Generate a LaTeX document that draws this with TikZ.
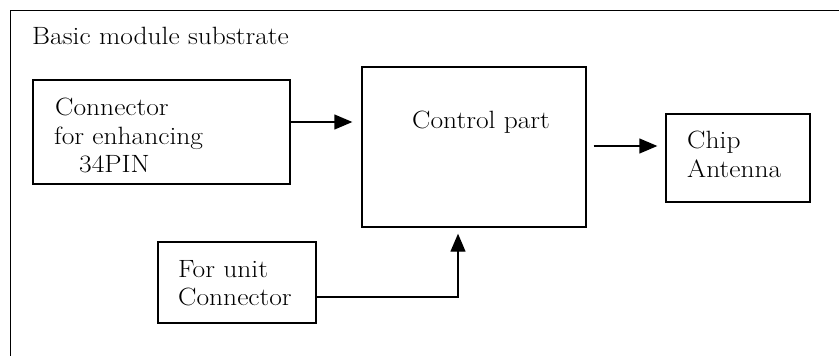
\documentclass[tikz,border=0pt]{standalone}
\usetikzlibrary{arrows.meta}
\newcommand{\sx}[1]{\scalebox{1.1}[1]{#1}}
\begin{document}
\begin{tikzpicture}[x=1pt,y=-1pt,
  box/.style={draw,line width=1.4pt,rectangle,inner sep=0pt},
  lbl/.style={anchor=base west,inner sep=0pt,font=\fontsize{25}{30}\selectfont},
  arr/.style={line width=1.4pt,-{Triangle[length=18pt,width=15pt]}}]
\clip (0,0) rectangle (839,356);
\fill[white] (0,0) rectangle (839,356);
\node[box,minimum width=850pt,minimum height=360pt,anchor=north west] (outer) at (10,10) {};
\node[lbl] (title) at (32,45) {\sx{Basic module substrate}};
% boxes
\node[box,minimum width=257pt,minimum height=104pt] (conn) at (161.5,132) {};
\node[box,minimum width=224pt,minimum height=160pt] (ctrl) at (474,147) {};
\node[box,minimum width=144pt,minimum height=88pt] (chip) at (738,158) {};
\node[box,minimum width=158pt,minimum height=81pt] (unit) at (237,282.5) {};
% labels
\node[lbl] (c1) at (55,115) {\sx{Connector}};
\node[lbl] (c2) at (54,144) {\sx{for enhancing}};
\node[lbl] (c3) at (79,172) {\sx{34PIN}};
\node[lbl] (ct) at (412,128) {\sx{Control part}};
\node[lbl] (a1) at (687,148) {\sx{Chip}};
\node[lbl] (a2) at (687,177) {\sx{Antenna}};
\node[lbl] (u1) at (178,277) {\sx{For unit}};
\node[lbl] (u2) at (178,305) {\sx{Connector}};
% connectors
\coordinate (t1) at ([xshift=-9pt]ctrl.west |- 0,122);
\draw[arr] (conn.east |- 0,122) -- (t1);
\coordinate (t2) at ([xshift=-8pt]chip.west |- 0,146);
\draw[arr] (ctrl.east |- 0,146) ++(7,0) -- (t2);
\coordinate (t3) at ([yshift=-6pt]ctrl.south -| 458,0);
\draw[arr] (unit.east |- 0,297) -| (t3);
\end{tikzpicture}
\end{document}
